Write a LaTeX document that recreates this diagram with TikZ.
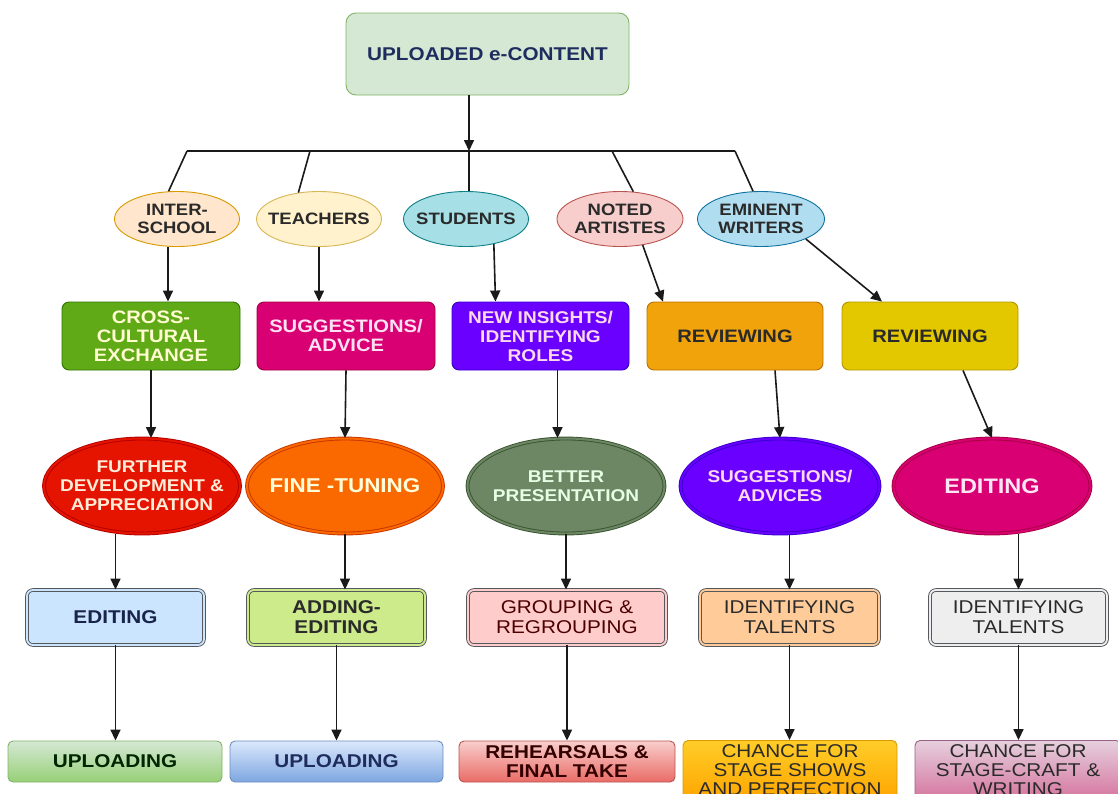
\documentclass[tikz,border=0pt]{standalone}
\usepackage{fontspec}
\setmainfont{Liberation Sans}[FakeStretch=1.12]
\usetikzlibrary{shapes.geometric,arrows.meta}
\definecolor{linec}{HTML}{1A1A1A}
\definecolor{txtd}{HTML}{2A2A2A}
\definecolor{navy}{HTML}{1F2D5E}
\definecolor{topF}{HTML}{D5E8D4}\definecolor{topD}{HTML}{82B366}
\definecolor{peachF}{HTML}{FFE6CC}\definecolor{peachD}{HTML}{D79B00}
\definecolor{yelF}{HTML}{FFF2CC}\definecolor{yelD}{HTML}{D6B656}
\definecolor{cyanF}{HTML}{A6DFE5}\definecolor{cyanD}{HTML}{0E8088}
\definecolor{pinkF}{HTML}{F8CECC}\definecolor{pinkD}{HTML}{B85450}
\definecolor{lblueF}{HTML}{B1DDF0}\definecolor{lblueD}{HTML}{10739E}
\definecolor{greenF}{HTML}{60A917}\definecolor{greenD}{HTML}{2D7600}
\definecolor{magF}{HTML}{D80073}\definecolor{magD}{HTML}{A50040}
\definecolor{violF}{HTML}{6A00FF}\definecolor{violD}{HTML}{3700CC}
\definecolor{orF}{HTML}{F0A30A}\definecolor{orD}{HTML}{BD7000}
\definecolor{goldF}{HTML}{E3C800}\definecolor{goldD}{HTML}{B09500}
\definecolor{redF}{HTML}{E51400}\definecolor{redD}{HTML}{B20000}
\definecolor{orgF}{HTML}{FA6800}\definecolor{orgD}{HTML}{C73500}
\definecolor{oliveF}{HTML}{6D8764}\definecolor{oliveD}{HTML}{3A5431}
\definecolor{grayb}{HTML}{55585C}
\definecolor{g1F}{HTML}{CCE5FF}\definecolor{g2F}{HTML}{CDEB8B}
\definecolor{g3F}{HTML}{FFCCCC}\definecolor{g4F}{HTML}{FFCC99}
\definecolor{g5F}{HTML}{EEEEEE}
\definecolor{h1B}{HTML}{97D077}\definecolor{h2T}{HTML}{DAE8FC}
\definecolor{h2B}{HTML}{7EA6E0}\definecolor{h2D}{HTML}{6C8EBF}
\definecolor{h3B}{HTML}{EA6B66}
\definecolor{h4T}{HTML}{FFCD28}\definecolor{h4B}{HTML}{FFA500}\definecolor{h4D}{HTML}{D79B00}
\definecolor{h5T}{HTML}{E6D0DE}\definecolor{h5B}{HTML}{D5739D}\definecolor{h5D}{HTML}{996185}
\tikzset{
  conn/.style={draw=linec, line width=1.6pt},
  arr/.style={conn, -{Triangle[length=11pt,width=10pt]}},
  ellA/.style={ellipse, draw, line width=0.9pt, inner xsep=-35pt, inner ysep=-10pt,
    minimum width=125, minimum height=55, align=center,
    font=\fontsize{16.5}{18.5}\selectfont\bfseries, text=txtd},
  boxB/.style={rectangle, rounded corners=7pt, draw, line width=0.9pt, inner sep=0pt,
    minimum width=177, minimum height=68, align=center,
    font=\fontsize{18}{19}\selectfont\bfseries},
  ellC/.style={ellipse, draw, double distance=2pt, line width=0.9pt,
    inner xsep=-55pt, inner ysep=-18pt, minimum width=196, minimum height=95,
    align=center, font=\fontsize{17}{19}\selectfont\bfseries},
  boxD/.style={rectangle, rounded corners=6pt, draw=grayb, double distance=1.8pt,
    line width=0.9pt, minimum width=177, minimum height=55, inner sep=0pt,
    align=center, font=\fontsize{18.5}{20}\selectfont, text=txtd},
  boxE/.style={rectangle, rounded corners=5pt, draw, line width=0.9pt,
    minimum width=214, minimum height=41, inner sep=0pt, align=center,
    font=\fontsize{18.5}{19}\selectfont\bfseries, text=txtd},
}
\begin{document}
\begin{tikzpicture}[x=1pt,y=-1pt]
\useasboundingbox (0,0) rectangle (1118,793);
\clip (0,0) rectangle (1118,793);

% top
\node[rectangle, rounded corners=10pt, draw=topD, fill=topF, line width=0.9pt,
  minimum width=283, minimum height=82, inner sep=0pt, text=navy,
  font=\fontsize{18.5}{20}\selectfont\bfseries] (top) at (487.5,54) {UPLOADED e-CONTENT};

% row 1
\node[ellA, fill=peachF, draw=peachD] (e1) at (177,219) {INTER-\\SCHOOL};
\node[ellA, fill=yelF, draw=yelD] (e2) at (319,219) {TEACHERS};
\node[ellA, fill=cyanF, draw=cyanD] (e3) at (466,219) {STUDENTS};
\node[ellA, fill=pinkF, draw=pinkD, minimum width=126] (e4) at (620,219) {NOTED\\ARTISTES};
\node[ellA, fill=lblueF, draw=lblueD, minimum width=127] (e5) at (761,219) {EMINENT\\WRITERS};

% row 2
\node[boxB, fill=greenF, draw=greenD, text=white!82!yellow, minimum width=178] (b1) at (151,336) {CROSS-\\CULTURAL\\EXCHANGE};
\node[boxB, fill=magF, draw=magD, text=white!88!magenta, minimum width=178] (b2) at (346,336) {SUGGESTIONS/\\ADVICE};
\node[boxB, fill=violF, draw=violD, text=white!85!magenta, font=\fontsize{17}{19}\selectfont\bfseries] (b3) at (540.5,336) {NEW INSIGHTS/\\IDENTIFYING\\ROLES};
\node[boxB, fill=orF, draw=orD, text=txtd, minimum width=176] (b4) at (735,336) {REVIEWING};
\node[boxB, fill=goldF, draw=goldD, text=txtd, minimum width=176] (b5) at (930,336) {REVIEWING};

% row 3
\node[ellC, fill=redF, draw=redD, double=redF, text=white!85!orange] (f1) at (142,486) {FURTHER\\DEVELOPMENT \&\\APPRECIATION};
\node[ellC, fill=orgF, draw=orgD, double=orgF, text=white!85!yellow, font=\fontsize{20}{22}\selectfont\bfseries] (f2) at (345,486) {FINE -TUNING};
\node[ellC, fill=oliveF, draw=oliveD, double=oliveF, text=white!90!green, minimum width=197] (f3) at (566,486) {BETTER\\PRESENTATION};
\node[ellC, fill=violF, draw=violD, double=violF, text=white!85!magenta, minimum width=199] (f4) at (780,486) {SUGGESTIONS/\\ADVICES};
\node[ellC, fill=magF, draw=magD, double=magF, text=white!90!magenta, minimum width=197, font=\fontsize{21}{23}\selectfont\bfseries] (f5) at (992,486) {EDITING};

% row 4
\node[boxD, fill=g1F, double=g1F, text=navy!80!black, font=\fontsize{18.5}{20}\selectfont\bfseries] (g1) at (115.5,617.5) {EDITING};
\node[boxD, fill=g2F, double=g2F, font=\fontsize{18.5}{20}\selectfont\bfseries] (g2) at (336.5,617.5) {ADDING-\\EDITING};
\node[boxD, fill=g3F, double=g3F, minimum width=198, text=black!70!red] (g3) at (567,617.5) {GROUPING \&\\REGROUPING};
\node[boxD, fill=g4F, double=g4F, minimum width=179] (g4) at (789.5,617.5) {IDENTIFYING\\TALENTS};
\node[boxD, fill=g5F, double=g5F] (g5) at (1018.5,617.5) {IDENTIFYING\\TALENTS};

% row 5
\node[boxE, top color=topF, bottom color=h1B, draw=topD, text=green!15!black] (h1) at (115,761.5) {UPLOADING};
\node[boxE, top color=h2T, bottom color=h2B, draw=h2D, text=navy, minimum width=213] (h2) at (336.5,761.5) {UPLOADING};
\node[boxE, top color=pinkF, bottom color=h3B, draw=pinkD, minimum width=216, text=black!80!red] (h3) at (567,761.5) {REHEARSALS \&\\FINAL TAKE};
\node[boxE, top color=h4T, bottom color=h4B, draw=h4D, minimum height=60, font=\fontsize{18.5}{19}\selectfont] (h4) at (790,770.5) {CHANCE FOR\\STAGE SHOWS\\AND PERFECTION};
\node[boxE, top color=h5T, bottom color=h5B, draw=h5D, minimum width=206, minimum height=60, font=\fontsize{18.5}{19}\selectfont] (h5) at (1018,770.5) {CHANCE FOR\\STAGE-CRAFT \&\\WRITING};

% bus
\coordinate (busA) at (187,151);
\coordinate (busB) at (310,151);
\coordinate (busC) at (469,151);
\coordinate (busD) at (612,151);
\coordinate (busE) at (735,151);
\draw[arr] (top.south -| busC) -- (busC);
\draw[conn] (busA) -- (busE);
\draw[conn] (busA) -- (e1.107);
\draw[conn] (busB) -- (e2.128);
\draw[conn] (busC) -- (busC |- e3.north);
\draw[conn] (busD) -- (e4.64);
\draw[conn] (busE) -- (e5.106);

% row1 -> row2
\draw[arr] ([xshift=-9pt]e1.south) -- ([xshift=-9pt]e1.south |- b1.north);
\draw[arr] (e2.south) -- (e2.south |- b2.north);
\draw[arr] (e3.-42) -- ([xshift=-45pt]b3.north);
\draw[arr] (e4.-49) -- ([xshift=-72pt]b4.north);
\draw[arr] (e5.-24) -- ([xshift=-48pt]b5.north);

% row2 -> row3
\draw[arr] (b1.south) -- (b1.south |- f1.north);
\draw[arr] (b2.south) -- (f2.north);
\draw[arr] ([xshift=17pt]b3.south) -- ([xshift=17pt]b3.south |- f3.north);
\draw[arr] ([xshift=40pt]b4.south) -- (f4.north);
\draw[arr] ([xshift=33pt]b5.south) -- (f5.north);

% row3 -> row4
\draw[arr] (f1.south -| g1.north) -- (g1.north);
\draw[arr] (f2.south) -- (f2.south |- g2.north);
\draw[arr] (f3.south) -- (f3.south |- g3.north);
\draw[arr] (f4.south -| g4.north) -- (g4.north);
\draw[arr] (f5.south -| g5.north) -- (g5.north);

% row4 -> row5
\draw[arr] (g1.south) -- (g1.south |- h1.north);
\draw[arr] (g2.south) -- (g2.south |- h2.north);
\draw[arr] (g3.south) -- (g3.south |- h3.north);
\draw[arr] (g4.south) -- (g4.south |- h4.north);
\draw[arr] (g5.south) -- (g5.south |- h5.north);
\end{tikzpicture}
\end{document}
